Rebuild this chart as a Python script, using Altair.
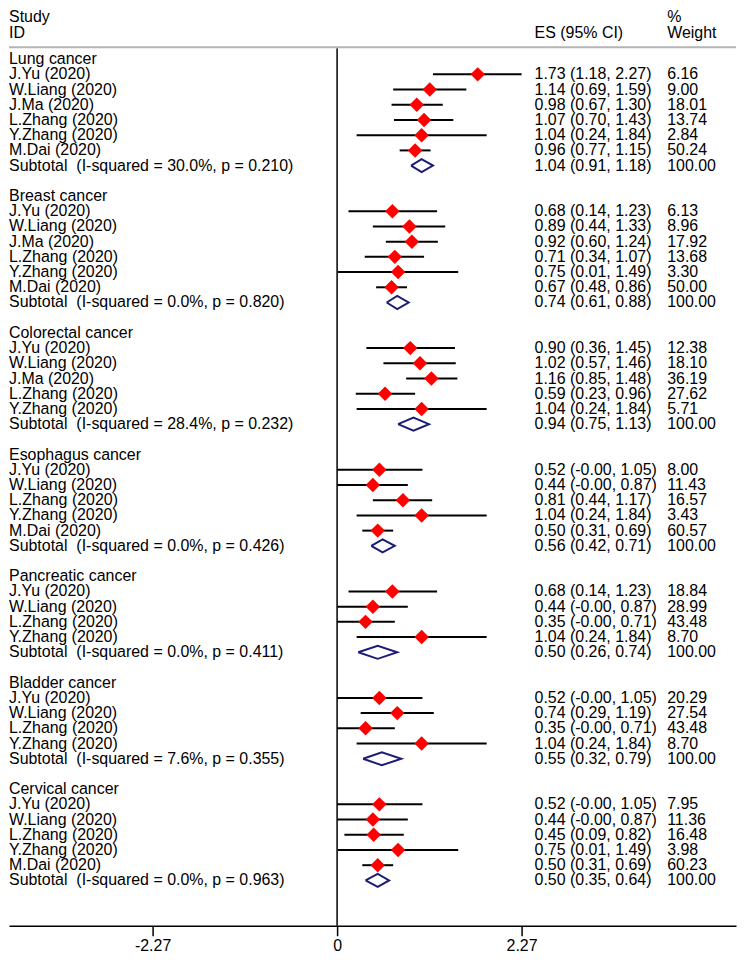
import altair as alt
import pandas as pd

# ---------------- data ----------------
groups = ["Lung cancer", "Breast cancer", "Colorectal cancer", "Esophagus cancer",
          "Pancreatic cancer", "Bladder cancer", "Cervical cancer"]

studies = [
    ["J.Yu (2020)", "W.Liang (2020)", "J.Ma (2020)", "L.Zhang (2020)", "Y.Zhang (2020)", "M.Dai (2020)"],
    ["J.Yu (2020)", "W.Liang (2020)", "J.Ma (2020)", "L.Zhang (2020)", "Y.Zhang (2020)", "M.Dai (2020)"],
    ["J.Yu (2020)", "W.Liang (2020)", "J.Ma (2020)", "L.Zhang (2020)", "Y.Zhang (2020)"],
    ["J.Yu (2020)", "W.Liang (2020)", "L.Zhang (2020)", "Y.Zhang (2020)", "M.Dai (2020)"],
    ["J.Yu (2020)", "W.Liang (2020)", "L.Zhang (2020)", "Y.Zhang (2020)"],
    ["J.Yu (2020)", "W.Liang (2020)", "L.Zhang (2020)", "Y.Zhang (2020)"],
    ["J.Yu (2020)", "W.Liang (2020)", "L.Zhang (2020)", "Y.Zhang (2020)", "M.Dai (2020)"],
]
es = [
    [1.73, 1.14, 0.98, 1.07, 1.04, 0.96],
    [0.68, 0.89, 0.92, 0.71, 0.75, 0.67],
    [0.90, 1.02, 1.16, 0.59, 1.04],
    [0.52, 0.44, 0.81, 1.04, 0.50],
    [0.68, 0.44, 0.35, 1.04],
    [0.52, 0.74, 0.35, 1.04],
    [0.52, 0.44, 0.45, 0.75, 0.50],
]
lo = [
    [1.18, 0.69, 0.67, 0.70, 0.24, 0.77],
    [0.14, 0.44, 0.60, 0.34, 0.01, 0.48],
    [0.36, 0.57, 0.85, 0.23, 0.24],
    [-0.0, -0.0, 0.44, 0.24, 0.31],
    [0.14, -0.0, -0.0, 0.24],
    [-0.0, 0.29, -0.0, 0.24],
    [-0.0, -0.0, 0.09, 0.01, 0.31],
]
hi = [
    [2.27, 1.59, 1.30, 1.43, 1.84, 1.15],
    [1.23, 1.33, 1.24, 1.07, 1.49, 0.86],
    [1.45, 1.46, 1.48, 0.96, 1.84],
    [1.05, 0.87, 1.17, 1.84, 0.69],
    [1.23, 0.87, 0.71, 1.84],
    [1.05, 1.19, 0.71, 1.84],
    [1.05, 0.87, 0.82, 1.49, 0.69],
]
weights = [
    [6.16, 9.00, 18.01, 13.74, 2.84, 50.24],
    [6.13, 8.96, 17.92, 13.68, 3.30, 50.00],
    [12.38, 18.10, 36.19, 27.62, 5.71],
    [8.00, 11.43, 16.57, 3.43, 60.57],
    [18.84, 28.99, 43.48, 8.70],
    [20.29, 27.54, 43.48, 8.70],
    [7.95, 11.36, 16.48, 3.98, 60.23],
]
sub_i2 = [30.0, 0.0, 28.4, 0.0, 0.0, 7.6, 0.0]
sub_p = [0.210, 0.820, 0.232, 0.426, 0.411, 0.355, 0.963]
sub_es = [1.04, 0.74, 0.94, 0.56, 0.50, 0.55, 0.50]
sub_lo = [0.91, 0.61, 0.75, 0.42, 0.26, 0.32, 0.35]
sub_hi = [1.18, 0.88, 1.13, 0.71, 0.74, 0.79, 0.64]
tick_values = [-2.27, 0, 2.27]

# ---------------- layout ----------------
W, H = 729, 916
ZERO_PX, PX_PER_UNIT = 329.0, 81.5
ROW0, ROW_H = 47.0, 15.25
X_DOM = [-ZERO_PX / PX_PER_UNIT, (W - ZERO_PX) / PX_PER_UNIT]
Y_DOM = [-ROW0 / ROW_H, (H - ROW0) / ROW_H]
FONT = "Liberation Sans"
FS = 16
ES_X, WT_X = 527, 660
HALF_H = 0.43
LINE_Y = 35

# ---------------- tables ----------------
text_rows, study_rows, poly_rows = [], [], []
r = 0
for gi, g in enumerate(groups):
    text_rows.append(dict(r=r, label=g, es_txt="", wt_txt=""))
    r += 1
    for j, name in enumerate(studies[gi]):
        e, l, h, w = es[gi][j], lo[gi][j], hi[gi][j], weights[gi][j]
        text_rows.append(dict(r=r, label=name, es_txt=f"{e:.2f} ({l:.2f}, {h:.2f})", wt_txt=f"{w:.2f}"))
        study_rows.append(dict(r=r, es=e, lo=l, hi=h))
        r += 1
    text_rows.append(dict(r=r,
                          label=f"Subtotal\u00a0 (I-squared = {sub_i2[gi]:.1f}%, p = {sub_p[gi]:.3f})",
                          es_txt=f"{sub_es[gi]:.2f} ({sub_lo[gi]:.2f}, {sub_hi[gi]:.2f})",
                          wt_txt="100.00"))
    pts = [(sub_lo[gi], r), (sub_es[gi], r - HALF_H), (sub_hi[gi], r),
           (sub_es[gi], r + HALF_H), (sub_lo[gi], r)]
    for k, (px, py) in enumerate(pts):
        poly_rows.append(dict(g=g, o=k, x=px, r=py))
    r += 2

text_df = pd.DataFrame(text_rows)
study_df = pd.DataFrame(study_rows)
poly_df = pd.DataFrame(poly_rows)
one = pd.DataFrame({"a": [0]})

xs = alt.Scale(domain=X_DOM, nice=False, zero=False)
ys = alt.Scale(domain=Y_DOM, reverse=True, nice=False, zero=False)

x_axis = alt.Axis(values=tick_values, title=None, grid=False,
                  labelExpr="datum.value == 0 ? '0' : (datum.value < 0 ? '-' : '') + format(abs(datum.value), '.2f')",
                  tickSize=10, tickWidth=1.5, tickColor="black",
                  domainColor="black", domainWidth=1.5,
                  labelFont=FONT, labelFontSize=16, labelColor="black", labelPadding=2)

Y = alt.Y("r:Q", scale=ys, axis=None)

ci = alt.Chart(study_df).mark_rule(color="black", strokeWidth=2).encode(
    x=alt.X("lo:Q", scale=xs, axis=x_axis), x2="hi:Q", y=Y)

pts = alt.Chart(study_df).mark_point(shape="diamond", filled=True, color="#ff0000",
                                     size=210, opacity=1).encode(
    x=alt.X("es:Q", scale=xs, axis=x_axis), y=Y)

diam = alt.Chart(poly_df).mark_line(color="#1c1c78", strokeWidth=2, strokeJoin="miter").encode(
    x=alt.X("x:Q", scale=xs, axis=x_axis), y=Y,
    detail="g:N", order=alt.Order("o:Q"))

zero_line = alt.Chart(one).mark_rule(color="black", strokeWidth=1.5).encode(
    x=alt.datum(0, scale=xs), y=alt.value(LINE_Y + 1), y2=alt.value(H))

top_line = alt.Chart(one).mark_rule(color="#b4b4b4", strokeWidth=2).encode(
    x=alt.value(0), x2=alt.value(W), y=alt.value(LINE_Y))

kw = dict(font=FONT, fontSize=FS, color="black", align="left", baseline="middle")

labels = alt.Chart(text_df).mark_text(**kw).encode(
    x=alt.value(0), y=Y, text="label:N")
es_txt = alt.Chart(text_df).mark_text(**kw).encode(
    x=alt.value(ES_X), y=Y, text="es_txt:N")
wt_txt = alt.Chart(text_df).mark_text(**kw).encode(
    x=alt.value(WT_X), y=Y, text="wt_txt:N")

def hdr(t, x, y):
    return alt.Chart(one).mark_text(**kw).encode(text=alt.value(t), x=alt.value(x), y=alt.value(y))

headers = [hdr("Study", 0, 5), hdr("ID", 0, 21), hdr("ES (95% CI)", ES_X, 21),
           hdr("%", WT_X, 5), hdr("Weight", WT_X, 21)]

chart = alt.layer(ci, zero_line, top_line, pts, diam, labels, es_txt, wt_txt, *headers).properties(
    width=W, height=H, padding=0, background="white"
).configure_view(stroke=None).configure_axis(grid=False)

chart.save("out.html", embed_options={"renderer": "svg", "actions": False})
